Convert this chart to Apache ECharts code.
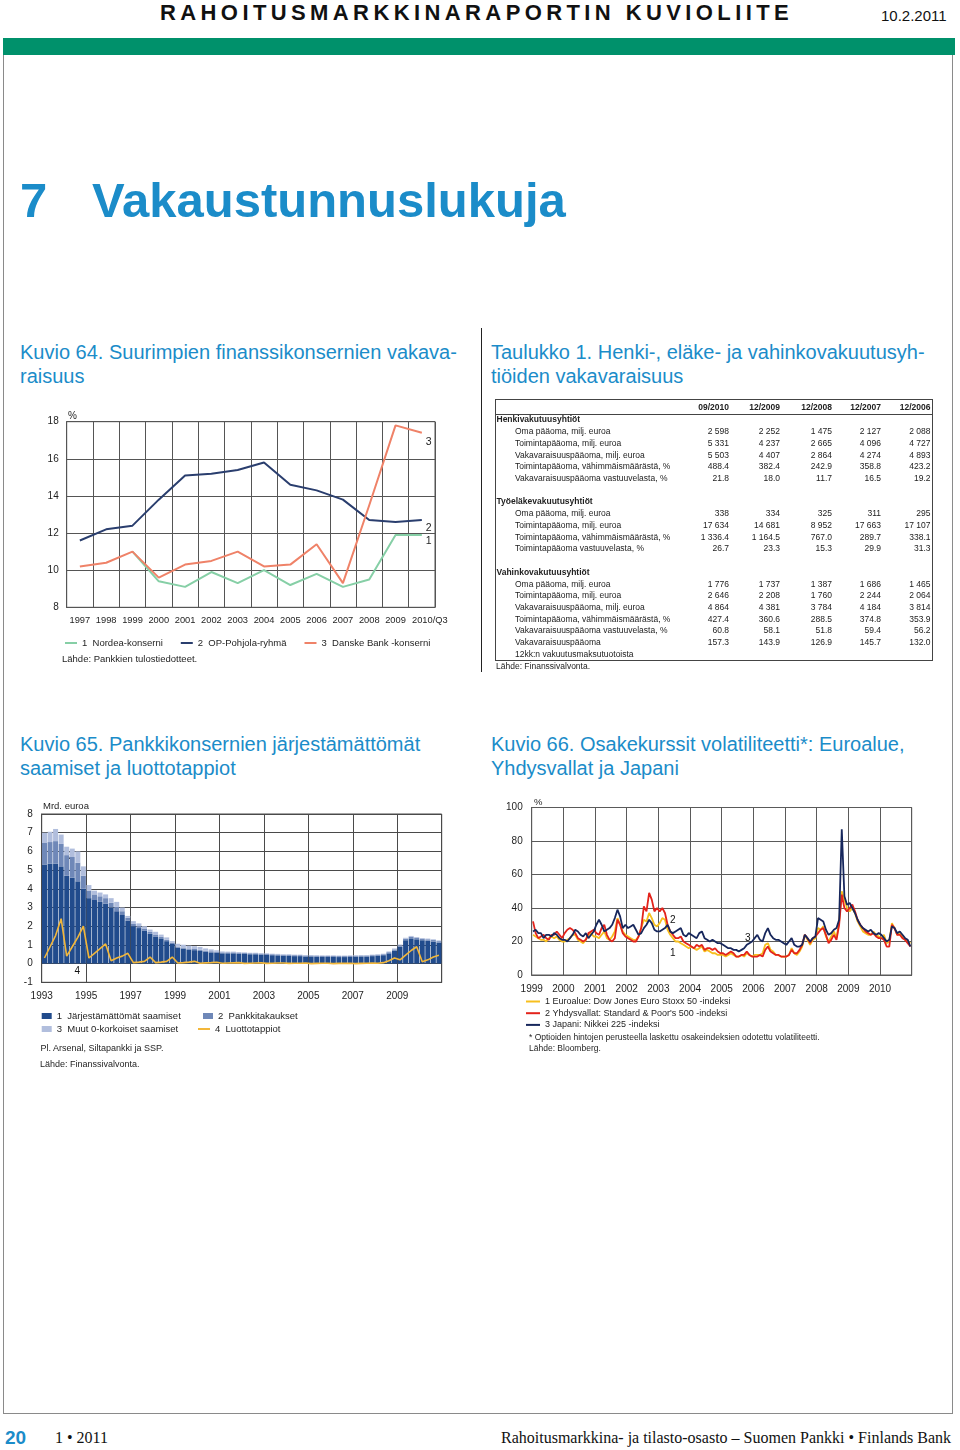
<!DOCTYPE html>
<html lang="fi">
<head>
<meta charset="utf-8">
<title>Rahoitusmarkkinaraportin kuvioliite</title>
<script src="https://cdn.jsdelivr.net/npm/echarts@6/dist/echarts.min.js"></script>
<style>
html,body{margin:0;padding:0;background:#fff;}
#page{position:relative;width:960px;height:1450px;overflow:hidden;background:#fff;font-family:"Liberation Sans",Arial,Helvetica,sans-serif;color:#1e1e1e;}
.t{position:absolute;white-space:nowrap;line-height:1;}
.ttl{position:absolute;white-space:nowrap;font-size:20px;line-height:24px;color:#1b8cc9;}
.chart{position:absolute;}
.tb{position:absolute;white-space:nowrap;font-size:8.5px;line-height:1;color:#222;}
.tbr{text-align:right;width:70px;}
.serif{font-family:"Liberation Serif","Times New Roman",serif;}
</style>
</head>
<body>
<div id="page">
  <div class="t" style="left:160px;top:2px;font-size:22px;font-weight:bold;letter-spacing:4.4px;color:#111;">RAHOITUSMARKKINARAPORTIN KUVIOLIITE</div>
  <div class="t" style="left:881px;top:8px;font-size:15px;color:#111;">10.2.2011</div>
  <div style="position:absolute;left:3px;top:38px;width:952px;height:17px;background:#00916b;"></div>
  <div style="position:absolute;left:3px;top:55px;width:948px;height:1358px;border:1px solid #8a8a8a;border-top:none;"></div>

  <div class="t" style="left:20px;top:176px;font-size:49px;font-weight:bold;color:#1b8cc9;">7</div>
  <div class="t" style="left:92px;top:176px;font-size:49px;font-weight:bold;color:#1b8cc9;">Vakaustunnuslukuja</div>

  <div class="ttl" style="left:20px;top:340px;">Kuvio 64. Suurimpien finanssikonsernien vakava-<br>raisuus</div>
  <div class="ttl" style="left:491px;top:340px;">Taulukko 1. Henki-, eläke- ja vahinkovakuutusyh-<br>tiöiden vakavaraisuus</div>
  <div style="position:absolute;left:481px;top:328px;width:1px;height:344px;background:#222;"></div>

  <div id="c64" class="chart" style="left:0;top:395px;width:480px;height:290px;"></div>
  <div class="t" style="left:62px;top:653.5px;font-size:9.5px;">Lähde: Pankkien tulostiedotteet.</div>

  <div id="table" style="position:absolute;left:0;top:0;width:960px;height:700px;"></div>

  <div class="ttl" style="left:20px;top:732px;">Kuvio 65. Pankkikonsernien järjestämättömät<br>saamiset ja luottotappiot</div>
  <div class="ttl" style="left:491px;top:732px;">Kuvio 66. Osakekurssit volatiliteetti*: Euroalue,<br>Yhdysvallat ja Japani</div>

  <div id="c65" class="chart" style="left:0;top:790px;width:480px;height:290px;"></div>
  <div class="t" style="left:40.5px;top:1043.5px;font-size:9px;">Pl. Arsenal, Siltapankki ja SSP.</div>
  <div class="t" style="left:40px;top:1059.5px;font-size:9px;">Lähde: Finanssivalvonta.</div>

  <div id="c66" class="chart" style="left:480px;top:790px;width:480px;height:290px;"></div>
  <div class="t" style="left:529px;top:1033px;font-size:8.5px;">* Optioiden hintojen perusteella laskettu osakeindeksien odotettu volatiliteetti.</div>
  <div class="t" style="left:529px;top:1044px;font-size:8.5px;">Lähde: Bloomberg.</div>

  <div class="t" style="left:5px;top:1428px;font-size:19px;font-weight:bold;color:#1b8cc9;">20</div>
  <div class="t serif" style="left:55px;top:1430px;font-size:16px;color:#111;">1 • 2011</div>
  <div class="t serif" style="right:9px;top:1430px;font-size:16px;color:#111;">Rahoitusmarkkina- ja tilasto-osasto – Suomen Pankki • Finlands Bank</div>
</div>

<script>
// ---------------- Kuvio 64 data ----------------
const years64 = ['1997','1998','1999','2000','2001','2002','2003','2004','2005','2006','2007','2008','2009','2010/Q3'];
const nordea64 = [null, null, 11.0, 9.4, 9.1, 9.9, 9.3, 10.0, 9.2, 9.8, 9.1, 9.5, 11.9, 11.9];
const opPohjola64 = [11.6, 12.2, 12.4, 13.8, 15.1, 15.2, 15.4, 15.8, 14.6, 14.3, 13.8, 12.7, 12.6, 12.7];
const danske64 = [10.2, 10.4, 11.0, 9.6, 10.3, 10.5, 11.0, 10.2, 10.3, 11.4, 9.3, 13.5, 17.8, 17.4];
const names64 = ['1  Nordea-konserni', '2  OP-Pohjola-ryhmä', '3  Danske Bank -konserni'];

// ---------------- Taulukko 1 data ----------------
const tableCols = ['09/2010', '12/2009', '12/2008', '12/2007', '12/2006'];
const henkiTitle = 'Henkivakutuusyhtiöt';
const henkiLabels = ['Oma pääoma, milj. euroa', 'Toimintapääoma, milj. euroa', 'Vakavaraisuuspääoma, milj. euroa', 'Toimintapääoma, vähimmäismäärästä, %', 'Vakavaraisuuspääoma vastuuvelasta, %'];
const henkiValues = [
  ['2 598', '2 252', '1 475', '2 127', '2 088'],
  ['5 331', '4 237', '2 665', '4 096', '4 727'],
  ['5 503', '4 407', '2 864', '4 274', '4 893'],
  ['488.4', '382.4', '242.9', '358.8', '423.2'],
  ['21.8', '18.0', '11.7', '16.5', '19.2']
];
const tyoelakeTitle = 'Työeläkevakuutusyhtiöt';
const tyoelakeLabels = ['Oma pääoma, milj. euroa', 'Toimintapääoma, milj. euroa', 'Toimintapääoma, vähimmäismäärästä, %', 'Toimintapääoma vastuuvelasta, %'];
const tyoelakeValues = [
  ['338', '334', '325', '311', '295'],
  ['17 634', '14 681', '8 952', '17 663', '17 107'],
  ['1 336.4', '1 164.5', '767.0', '289.7', '338.1'],
  ['26.7', '23.3', '15.3', '29.9', '31.3']
];
const vahinkoTitle = 'Vahinkovakutuusyhtiöt';
const vahinkoLabels = ['Oma pääoma, milj. euroa', 'Toimintapääoma, milj. euroa', 'Vakavaraisuuspääoma, milj. euroa', 'Toimintapääoma, vähimmäismäärästä, %', 'Vakavaraisuuspääoma vastuuvelasta, %', 'Vakavaraisuuspääoma', '12kk:n vakuutusmaksutuotoista'];
const vahinkoValues = [
  ['1 776', '1 737', '1 387', '1 686', '1 465'],
  ['2 646', '2 208', '1 760', '2 244', '2 064'],
  ['4 864', '4 381', '3 784', '4 184', '3 814'],
  ['427.4', '360.6', '288.5', '374.8', '353.9'],
  ['60.8', '58.1', '51.8', '59.4', '56.2'],
  ['157.3', '143.9', '126.9', '145.7', '132.0'],
  null
];
const tableSource = 'Lähde: Finanssivalvonta.';

// ---------------- Kuvio 65 data (quarterly 1993Q1–2010Q4, mrd. euroa) ----------------
const years65 = [1993,1994,1995,1996,1997,1998,1999,2000,2001,2002,2003,2004,2005,2006,2007,2008,2009,2010];
const nonPerforming65 = [
  5.30, 5.35, 5.35, 5.20,  4.70, 4.60, 4.40, 4.00,  3.50, 3.40, 3.30, 3.20,  3.00, 2.80, 2.60, 2.30,
  2.00, 1.90, 1.75, 1.60,  1.45, 1.35, 1.20, 1.05,  0.85, 0.80, 0.75, 0.72,  0.68, 0.63, 0.60, 0.58,
  0.55, 0.55, 0.55, 0.53,  0.52, 0.50, 0.50, 0.48,  0.47, 0.45, 0.44, 0.42,  0.42, 0.40, 0.40, 0.38,
  0.38, 0.37, 0.36, 0.36,  0.36, 0.35, 0.35, 0.36,  0.37, 0.38, 0.38, 0.40,  0.42, 0.45, 0.55, 0.70,
  0.90, 1.25, 1.35, 1.30,  1.25, 1.22, 1.18, 1.12
];
const guarantees65 = [
  1.15, 1.15, 1.20, 1.20,  1.10, 1.10, 1.00, 0.70,  0.40, 0.30, 0.30, 0.30,  0.25, 0.25, 0.20, 0.15,
  0.12, 0.10, 0.10, 0.10,  0.08, 0.08, 0.07, 0.07,  0.06, 0.06, 0.06, 0.06,  0.06, 0.06, 0.06, 0.05,
  0.05, 0.05, 0.05, 0.05,  0.05, 0.05, 0.05, 0.05,  0.05, 0.05, 0.05, 0.05,  0.05, 0.05, 0.05, 0.05,
  0.05, 0.05, 0.05, 0.05,  0.05, 0.05, 0.05, 0.05,  0.05, 0.05, 0.05, 0.05,  0.05, 0.05, 0.06, 0.06,
  0.07, 0.08, 0.08, 0.08,  0.08, 0.08, 0.08, 0.08
];
const otherZero65 = [
  0.55, 0.55, 0.65, 0.50,  0.45, 0.45, 0.60, 0.50,  0.30, 0.20, 0.20, 0.20,  0.25, 0.25, 0.20, 0.10,
  0.15, 0.15, 0.15, 0.12,  0.17, 0.12, 0.13, 0.08,  0.15, 0.15, 0.15, 0.15,  0.15, 0.12, 0.10, 0.08,
  0.05, 0.04, 0.04, 0.04,  0.03, 0.03, 0.03, 0.03,  0.03, 0.03, 0.03, 0.03,  0.03, 0.03, 0.03, 0.03,
  0.03, 0.03, 0.03, 0.03,  0.03, 0.03, 0.03, 0.03,  0.03, 0.03, 0.03, 0.03,  0.03, 0.03, 0.04, 0.05,
  0.05, 0.05, 0.05, 0.04,  0.04, 0.04, 0.04, 0.04
];
const creditLosses65 = [
  0.30, 0.90, 1.50, 2.40,  0.40, 0.90, 1.40, 2.00,  0.30, 0.55, 0.80, 1.05,  0.15, 0.30, 0.40, 0.55,
  0.05, 0.08, 0.12, 0.35,  0.05, 0.08, 0.12, 0.35,  0.03, 0.05, 0.08, 0.12,  0.02, 0.04, 0.05, 0.07,
  0.02, 0.03, 0.04, 0.05,  0.01, 0.02, 0.03, 0.04,  0.01, 0.02, 0.03, 0.03,  0.01, 0.02, 0.02, 0.03,
  0.00, 0.01, 0.02, 0.02,  0.00, 0.01, 0.01, 0.02,  0.00, 0.01, 0.02, 0.03,  0.02, 0.05, 0.15, 0.30,
  0.20, 0.45, 0.70, 0.90,  0.10, 0.20, 0.35, 0.45
];
const names65 = ['1  Järjestämättömät saamiset', '2  Pankkitakaukset', '3  Muut 0-korkoiset saamiset', '4  Luottotappiot'];

// ---------------- Kuvio 66 data (monthly 1999–2010, %) ----------------
const euroStoxx66 = [
  24,23,22,21,21,20,22,23,22,23,21,20,
  20,21,22,24,24,21,20,19,21,24,25,23,
  23,22,24,26,22,21,23,26,34,30,26,24,
  23,22,21,21,23,28,33,32,37,34,30,29,
  31,34,33,27,24,22,20,20,19,18,17,16,
  17,16,15,16,17,14,15,14,13,13,12,12,
  12,11,12,13,12,11,11,12,11,13,12,11,
  12,12,12,13,18,19,15,14,12,12,11,11,
  11,12,16,13,12,14,17,24,21,18,21,22,
  28,27,29,23,20,23,26,22,32,50,45,40,
  38,40,37,32,29,26,25,24,24,26,24,23,
  22,24,19,20,31,28,24,25,23,21,20,19
];
const sp500_66 = [
  32,25,22,23,24,22,21,24,24,26,24,22,
  25,27,28,27,25,22,21,20,21,25,26,27,
  25,24,28,30,24,21,20,22,33,30,25,23,
  22,21,20,20,23,28,41,38,49,45,38,40,
  38,40,37,30,26,24,22,22,23,20,19,18,
  17,16,18,17,18,15,16,16,15,16,14,13,
  13,12,13,14,13,11,11,12,12,14,12,11,
  11,11,12,11,15,17,14,13,12,12,11,11,
  11,12,15,13,13,15,18,24,22,19,22,23,
  25,27,28,24,19,21,24,21,30,48,40,38,
  40,42,38,33,30,28,26,25,24,25,23,22,
  22,21,17,17,30,28,24,24,22,21,19,17
];
const nikkei66 = [
  26,27,25,25,22,24,24,23,25,24,22,21,
  21,20,22,24,27,26,24,23,25,22,24,26,
  30,33,30,26,27,28,30,34,39,35,28,30,
  28,29,30,27,24,25,28,30,33,31,27,26,
  26,27,28,30,26,25,26,27,28,24,23,25,
  24,23,22,25,26,22,21,20,21,20,19,19,
  18,17,16,16,15,15,14,15,16,18,19,20,
  22,24,21,20,25,28,24,22,21,21,20,19,
  18,20,22,18,17,17,18,24,22,20,22,23,
  34,33,32,27,24,25,27,28,33,87,47,42,
  43,40,37,33,30,28,27,26,27,25,24,25,
  24,22,20,21,29,28,25,26,24,22,21,17
];
const names66 = ['1 Euroalue: Dow Jones Euro Stoxx 50 -indeksi', "2 Yhdysvallat: Standard & Poor's 500 -indeksi", '3 Japani: Nikkei 225 -indeksi'];

// ---------------- Table rendering ----------------
(function buildTable() {
  const host = document.getElementById('table');
  const box = document.createElement('div');
  box.style.cssText = 'position:absolute;left:495px;top:399px;width:436px;height:260px;border:1px solid #444;';
  host.appendChild(box);
  const line = document.createElement('div');
  line.style.cssText = 'position:absolute;left:495px;top:413.5px;width:438px;height:1px;background:#444;';
  host.appendChild(line);
  const colRight = [729, 780, 832, 881, 930.5];
  const fs = 8.5;
  function put(text, x, yc, bold, right) {
    const d = document.createElement('div');
    d.className = 'tb' + (right ? ' tbr' : '');
    d.textContent = text;
    d.style.top = (yc - fs * 0.5) + 'px';
    d.style.left = (right ? x - 70 : x) + 'px';
    if (bold) d.style.fontWeight = 'bold';
    host.appendChild(d);
  }
  tableCols.forEach((c, j) => put(c, colRight[j], 407.5, true, true));
  const y0 = 419.6, step = 11.73;
  let row = 0;
  [[henkiTitle, henkiLabels, henkiValues], [tyoelakeTitle, tyoelakeLabels, tyoelakeValues], [vahinkoTitle, vahinkoLabels, vahinkoValues]].forEach((sec, si) => {
    if (si > 0) row++;
    put(sec[0], 496.5, y0 + row * step, true, false);
    row++;
    sec[1].forEach((lab, k) => {
      const yc = y0 + row * step;
      put(lab, 515, yc, false, false);
      const vals = sec[2][k];
      if (vals) vals.forEach((v, j) => put(v, colRight[j], yc, false, true));
      row++;
    });
  });
  put(tableSource, 496, 666, false, false);
})();

const FONT = '"Liberation Sans", Arial, sans-serif';
const TXT = '#1e1e1e';

// ---------------- Kuvio 64 ----------------
const c64 = echarts.init(document.getElementById('c64'), null, {renderer: 'canvas'});
const g64 = '#555';
const cats64 = years64.map((y, i) => i === years64.length - 1 ? {value: y, textStyle: {padding: [0, 0, 0, 16]}} : y);
c64.setOption({
  animation: false,
  textStyle: {fontFamily: FONT},
  grid: {left: 66.7, top: 26.7, width: 368.3, height: 185.6, show: true, borderColor: g64, borderWidth: 1},
  legend: {
    left: 65, top: 243, padding: 0, itemWidth: 12, itemHeight: 2, itemGap: 18, icon: 'rect', selectedMode: false,
    textStyle: {fontSize: 9.5, color: TXT, fontFamily: FONT}, data: names64
  },
  xAxis: {
    type: 'category', data: cats64, boundaryGap: true,
    axisLine: {lineStyle: {color: g64}}, axisTick: {show: false},
    axisLabel: {interval: 0, fontSize: 9.3, color: TXT, margin: 9},
    splitLine: {show: true, interval: 0, lineStyle: {color: g64, width: 1}}
  },
  yAxis: {
    type: 'value', min: 8, max: 18, interval: 2,
    axisLine: {show: true, lineStyle: {color: g64}}, axisTick: {show: false},
    axisLabel: {fontSize: 10, color: TXT, margin: 8},
    splitLine: {lineStyle: {color: g64, width: 1}}
  },
  graphic: [{type: 'text', x: 68, y: 16, style: {text: '%', fontSize: 10, fill: TXT, fontFamily: FONT}}],
  series: [
    {name: names64[0], type: 'line', data: nordea64, color: '#86cfa6', symbol: 'none', lineStyle: {width: 2},
     endLabel: {show: true, formatter: '1', color: TXT, fontSize: 10.5, distance: 4, offset: [0, 6]}},
    {name: names64[1], type: 'line', data: opPohjola64, color: '#2a3e6e', symbol: 'none', lineStyle: {width: 2},
     endLabel: {show: true, formatter: '2', color: TXT, fontSize: 10.5, distance: 4, offset: [0, 8]}},
    {name: names64[2], type: 'line', data: danske64, color: '#ef8268', symbol: 'none', lineStyle: {width: 2},
     endLabel: {show: true, formatter: '3', color: TXT, fontSize: 10.5, distance: 4, offset: [0, 9]}}
  ]
});

// ---------------- Kuvio 65 ----------------
const quarters65 = [];
years65.forEach(y => { for (let q = 1; q <= 4; q++) quarters65.push(y + 'Q' + q); });
const c65 = echarts.init(document.getElementById('c65'), null, {renderer: 'canvas'});
const g65 = '#4a4a4a';
const col65 = ['#214b8c', '#6f88b8', '#b1bedd', '#f3b73a'];
function leg65(name, left, top, isLine) {
  return {
    left: left, top: top, padding: 0, selectedMode: false, icon: 'rect',
    itemWidth: isLine ? 12 : 10, itemHeight: isLine ? 2 : 6,
    textStyle: {fontSize: 9.5, color: TXT, fontFamily: FONT}, data: [name]
  };
}
c65.setOption({
  animation: false,
  textStyle: {fontFamily: FONT},
  grid: {left: 41.7, top: 24, width: 400, height: 168.3, show: true, borderColor: g65, borderWidth: 1},
  legend: [
    leg65(names65[0], 41.7, 221, false),
    leg65(names65[1], 203, 221, false),
    leg65(names65[2], 41.7, 234, false),
    leg65(names65[3], 198, 234, true)
  ],
  xAxis: [
    {type: 'category', data: quarters65, position: 'top', show: false, boundaryGap: true},
    {type: 'value', min: 0, max: 18, interval: 2, position: 'bottom',
     axisLine: {onZero: false, lineStyle: {color: g65}}, axisTick: {show: false},
     axisLabel: {fontSize: 10, color: TXT, margin: 9, formatter: v => (v < 18 ? String(1993 + v) : '')},
     splitLine: {show: true, lineStyle: {color: g65, width: 1}}}
  ],
  yAxis: {
    type: 'value', min: -1, max: 8, interval: 1,
    axisLine: {show: true, onZero: false, lineStyle: {color: g65}}, axisTick: {show: false},
    axisLabel: {fontSize: 10, color: TXT, margin: 9},
    splitLine: {lineStyle: {color: g65, width: 1}}
  },
  graphic: [
    {type: 'text', x: 43, y: 11, style: {text: 'Mrd. euroa', fontSize: 9.5, fill: TXT, fontFamily: FONT}},
    {type: 'text', x: 70.5, y: 66.5, style: {text: '3', fontSize: 10, fill: '#111', align: 'center', verticalAlign: 'middle', fontFamily: FONT}},
    {type: 'text', x: 69.2, y: 84.3, style: {text: '2', fontSize: 10, fill: '#e6ebf5', align: 'center', verticalAlign: 'middle', fontFamily: FONT}},
    {type: 'text', x: 69.2, y: 131.8, style: {text: '1', fontSize: 10, fill: '#ffffff', align: 'center', verticalAlign: 'middle', fontFamily: FONT}},
    {type: 'line', shape: {x1: 69.5, y1: 164.5, x2: 74.5, y2: 173.5}, style: {stroke: '#c8d2ea', lineWidth: 0.8}},
    {type: 'text', x: 77.3, y: 181, style: {text: '4', fontSize: 10, fill: '#111', align: 'center', verticalAlign: 'middle', fontFamily: FONT}}
  ],
  series: [
    {name: names65[0], type: 'bar', stack: 'npl', xAxisIndex: 0, data: nonPerforming65, color: col65[0], barCategoryGap: '10%'},
    {name: names65[1], type: 'bar', stack: 'npl', xAxisIndex: 0, data: guarantees65, color: col65[1], barCategoryGap: '10%'},
    {name: names65[2], type: 'bar', stack: 'npl', xAxisIndex: 0, data: otherZero65, color: col65[2], barCategoryGap: '10%'},
    {name: names65[3], type: 'line', xAxisIndex: 0, data: creditLosses65, color: col65[3], symbol: 'none', lineStyle: {width: 1.6}, z: 5}
  ]
});

// ---------------- Kuvio 66 ----------------
const c66 = echarts.init(document.getElementById('c66'), null, {renderer: 'canvas'});
const g66 = '#5a5a5a';
const monthly = arr => arr.map((v, i) => [1999 + (i + 0.5) / 12, v]);
c66.setOption({
  animation: false,
  textStyle: {fontFamily: FONT},
  grid: {left: 51.7, top: 17.5, width: 380, height: 167.5, show: true, borderColor: g66, borderWidth: 1},
  legend: {
    left: 46, top: 206, padding: 0, orient: 'vertical', itemWidth: 14, itemHeight: 2, itemGap: 0.7, icon: 'rect', selectedMode: false,
    textStyle: {fontSize: 9, lineHeight: 11, color: TXT, fontFamily: FONT}, data: names66
  },
  xAxis: {
    type: 'value', min: 1999, max: 2011, interval: 1,
    axisLine: {onZero: false, lineStyle: {color: g66}}, axisTick: {show: false},
    axisLabel: {fontSize: 10, color: TXT, margin: 9, formatter: v => (v < 2011 ? String(v) : '')},
    splitLine: {show: true, lineStyle: {color: g66, width: 1}}
  },
  yAxis: {
    type: 'value', min: 0, max: 100, interval: 20,
    axisLine: {show: true, lineStyle: {color: g66}}, axisTick: {show: false},
    axisLabel: {fontSize: 10, color: TXT, margin: 9},
    splitLine: {lineStyle: {color: g66, width: 1}}
  },
  graphic: [
    {type: 'text', x: 54, y: 7, style: {text: '%', fontSize: 9.5, fill: TXT, fontFamily: FONT}},
    {type: 'text', x: 192.7, y: 130, style: {text: '2', fontSize: 10, fill: '#111', align: 'center', verticalAlign: 'middle', fontFamily: FONT}},
    {type: 'text', x: 192.7, y: 163.3, style: {text: '1', fontSize: 10, fill: '#111', align: 'center', verticalAlign: 'middle', fontFamily: FONT}},
    {type: 'text', x: 267.7, y: 148.3, style: {text: '3', fontSize: 10, fill: '#111', align: 'center', verticalAlign: 'middle', fontFamily: FONT}}
  ],
  series: [
    {name: names66[0], type: 'line', data: monthly(euroStoxx66), color: '#f7bf1e', symbol: 'none', lineStyle: {width: 1.8}},
    {name: names66[1], type: 'line', data: monthly(sp500_66), color: '#e3231b', symbol: 'none', lineStyle: {width: 1.8}},
    {name: names66[2], type: 'line', data: monthly(nikkei66), color: '#17275c', symbol: 'none', lineStyle: {width: 1.8}}
  ]
});
</script>
</body>
</html>
